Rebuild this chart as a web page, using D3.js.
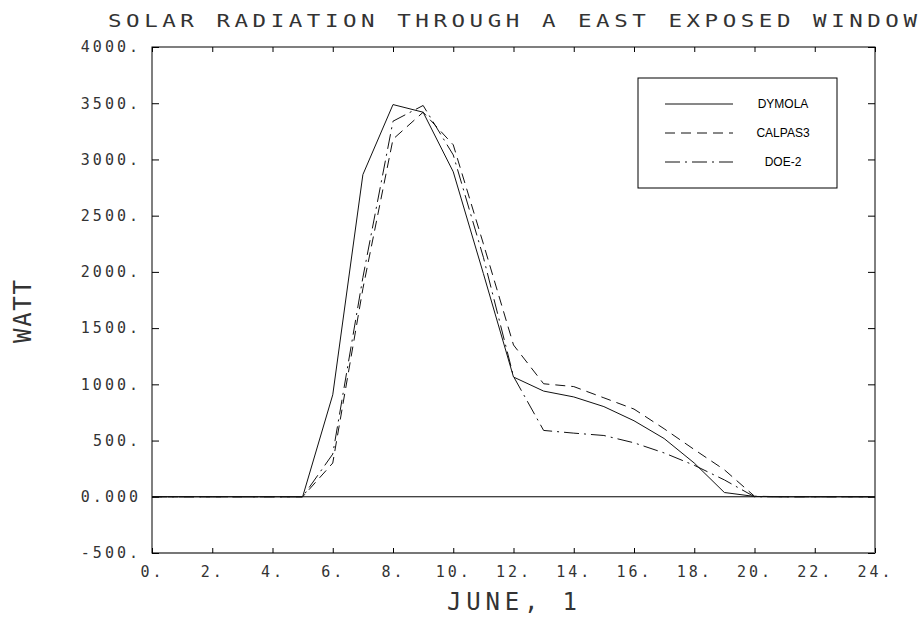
<!DOCTYPE html>
<meta charset="utf-8">
<script src="https://d3js.org/d3.v7.min.js"></script>
<style>
  body { margin: 0; background: #fff; }
  .mono { font-family: "DejaVu Sans Mono", monospace; fill: #333; }
</style>
<div id="my_dataviz"></div>
<script>

  // hours of the day (x values)
  var hours = [0,1,2,3,4,5,6,7,8,9,10,11,12,13,14,15,16,17,18,19,20,21,22,23,24];

  // series values (watt)
  var dymola  = [0,0,0,0,0,0,907,2865,3488,3420,2890,1985,1065,940,888,802,676,518,300,38,3,0,0,0,0];
  var calpas3 = [0,0,0,0,0,0,300,1850,3180,3420,3130,2250,1350,1005,980,880,780,605,420,240,5,0,0,0,0];
  var doe2    = [0,0,0,0,0,0,380,1950,3340,3480,3040,2130,1070,590,566,545,480,390,280,150,0,0,0,0,0];

  var seriesNames = ["DYMOLA", "CALPAS3", "DOE-2"];
  var seriesDash = ["none", "10,6", "15,5,2,5"];

  // tick values and labels
  var xTicks = [0,2,4,6,8,10,12,14,16,18,20,22,24];
  var xTickLabels = ["0.","2.","4.","6.","8.","10.","12.","14.","16.","18.","20.","22.","24."];
  var yTicks = [-500,0,500,1000,1500,2000,2500,3000,3500,4000];
  var yTickLabels = ["-500.","0.000","500.","1000.","1500.","2000.","2500.","3000.","3500.","4000."];

  var width = 924, height = 619;

  var svg = d3.select("#my_dataviz")
    .append("svg")
      .attr("width", width)
      .attr("height", height);

  // scales
  var x = d3.scaleLinear().domain([0, 24]).range([152, 875]);
  var y = d3.scaleLinear().domain([-500, 4000]).range([553, 47]);

  // frame
  svg.append("rect")
    .attr("x", x(0)).attr("y", y(4000))
    .attr("width", x(24) - x(0)).attr("height", y(-500) - y(4000))
    .attr("fill", "none").attr("stroke", "#000").attr("stroke-width", 1);
  // heavier bottom edge
  svg.append("line")
    .attr("x1", x(0)).attr("x2", x(24))
    .attr("y1", y(-500)).attr("y2", y(-500))
    .attr("stroke", "#777").attr("stroke-width", 2);

  // left axis with labels, ticks inward
  var yLeft = svg.append("g")
    .attr("transform", "translate(" + x(0) + ",0)")
    .call(d3.axisLeft(y).tickValues(yTicks).tickSize(-7).tickPadding(11)
      .tickFormat(function(d, i) { return yTickLabels[i]; }));
  yLeft.select(".domain").remove();
  yLeft.selectAll("text")
    .attr("class", "mono")
    .style("font-size", "15px")
    .style("letter-spacing", "3px")
    .attr("fill", "#333");

  // right axis, ticks only
  var yRight = svg.append("g")
    .attr("transform", "translate(" + x(24) + ",0)")
    .call(d3.axisRight(y).tickValues(yTicks).tickSize(-7).tickFormat(""));
  yRight.select(".domain").remove();

  // bottom axis with labels
  var xBottom = svg.append("g")
    .attr("transform", "translate(0," + y(-500) + ")")
    .call(d3.axisBottom(x).tickValues(xTicks).tickSize(-5).tickPadding(13)
      .tickFormat(function(d, i) { return xTickLabels[i]; }));
  xBottom.select(".domain").remove();
  xBottom.selectAll("text")
    .attr("class", "mono")
    .style("font-size", "15px")
    .style("letter-spacing", "3px")
    .attr("fill", "#333");

  // top axis, ticks only
  var xTop = svg.append("g")
    .attr("transform", "translate(0," + y(4000) + ")")
    .call(d3.axisTop(x).tickValues(xTicks).tickSize(-5).tickFormat(""));
  xTop.select(".domain").remove();

  svg.selectAll(".tick line").attr("stroke", "#000");

  // zero line
  svg.append("line")
    .attr("x1", x(0)).attr("x2", x(24))
    .attr("y1", y(0)).attr("y2", y(0))
    .attr("stroke", "#000").attr("stroke-width", 1);

  // curves
  var line = d3.line()
    .x(function(d) { return x(d[0]); })
    .y(function(d) { return y(d[1]); });

  [dymola, calpas3, doe2].forEach(function(vals, i) {
    svg.append("path")
      .datum(hours.map(function(h, j) { return [h, vals[j]]; }))
      .attr("d", line)
      .attr("fill", "none")
      .attr("stroke", "#111")
      .attr("stroke-width", 1)
      .attr("stroke-dasharray", seriesDash[i]);
  });

  // legend
  svg.append("rect")
    .attr("x", 638).attr("y", 78).attr("width", 199).attr("height", 110)
    .attr("fill", "#fff").attr("stroke", "#000").attr("stroke-width", 1);
  seriesNames.forEach(function(name, i) {
    var ly = 104 + i * 29;
    svg.append("line")
      .attr("x1", 665).attr("x2", 733).attr("y1", ly).attr("y2", ly)
      .attr("stroke", "#111").attr("stroke-width", 1)
      .attr("stroke-dasharray", seriesDash[i]);
    svg.append("text")
      .attr("x", 783).attr("y", ly)
      .attr("text-anchor", "middle")
      .attr("dominant-baseline", "central")
      .style("font-family", "'Liberation Sans', Arial, sans-serif")
      .style("font-size", "12px")
      .text(name);
  });

  // title (glyphs stretched a little to look like the plotter font)
  svg.append("text")
    .attr("class", "mono")
    .attr("transform", "translate(108,27) scale(1.25,1)")
    .attr("textLength", 809 / 1.25).attr("lengthAdjust", "spacing")
    .style("font-size", "18px")
    .text("SOLAR RADIATION THROUGH A EAST EXPOSED WINDOW");

  // x axis title
  svg.append("text")
    .attr("class", "mono")
    .attr("x", 447).attr("y", 610)
    .attr("textLength", 130).attr("lengthAdjust", "spacing")
    .style("font-size", "24px")
    .text("JUNE, 1");

  // y axis title
  svg.append("text")
    .attr("class", "mono")
    .attr("transform", "translate(31,343) rotate(-90)")
    .attr("textLength", 63).attr("lengthAdjust", "spacing")
    .style("font-size", "24px")
    .text("WATT");

</script>
